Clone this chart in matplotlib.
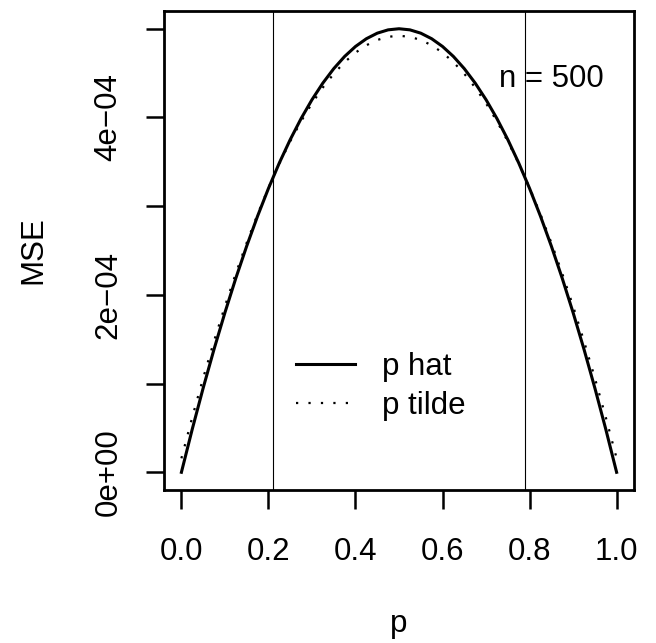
import matplotlib
matplotlib.use("Agg")
import matplotlib.pyplot as plt
from matplotlib.ticker import FixedLocator, FixedFormatter

plt.rcParams['font.family'] = ['Liberation Sans', 'DejaVu Sans']

# values, MSE in units of 1e-4
p = [0.000, 0.025, 0.050, 0.075, 0.100, 0.125, 0.150, 0.175, 0.200, 0.225,
     0.250, 0.275, 0.300, 0.325, 0.350, 0.375, 0.400, 0.425, 0.450, 0.475,
     0.500, 0.525, 0.550, 0.575, 0.600, 0.625, 0.650, 0.675, 0.700, 0.725,
     0.750, 0.775, 0.800, 0.825, 0.850, 0.875, 0.900, 0.925, 0.950, 0.975,
     1.000]
mse_hat = [0.0000, 0.4875, 0.9500, 1.3875, 1.8000, 2.1875, 2.5500, 2.8875,
           3.2000, 3.4875, 3.7500, 3.9875, 4.2000, 4.3875, 4.5500, 4.6875,
           4.8000, 4.8875, 4.9500, 4.9875, 5.0000, 4.9875, 4.9500, 4.8875,
           4.8000, 4.6875, 4.5500, 4.3875, 4.2000, 3.9875, 3.7500, 3.4875,
           3.2000, 2.8875, 2.5500, 2.1875, 1.8000, 1.3875, 0.9500, 0.4875,
           0.0000]
mse_tilde = [0.1575, 0.6219, 1.0625, 1.4793, 1.8723, 2.2415, 2.5869, 2.9084,
             3.2061, 3.4800, 3.7301, 3.9564, 4.1588, 4.3374, 4.4922, 4.6232,
             4.7304, 4.8138, 4.8733, 4.9090, 4.9210, 4.9090, 4.8733, 4.8138,
             4.7304, 4.6232, 4.4922, 4.3374, 4.1588, 3.9564, 3.7301, 3.4800,
             3.2061, 2.9084, 2.5869, 2.2415, 1.8723, 1.4793, 1.0625, 0.6219,
             0.1575]
cross = [0.2112, 0.7888]

xticks = [0.0, 0.2, 0.4, 0.6, 0.8, 1.0]
xlabels = ["0.0", "0.2", "0.4", "0.6", "0.8", "1.0"]
yticks = [0, 1e-4, 2e-4, 3e-4, 4e-4, 5e-4]
ylabels = ["0e+00", "", "2e\u221204", "", "4e\u221204", ""]

fs = 22.5

fig = plt.figure(figsize=(6.56, 6.43), dpi=100)
ax = fig.add_axes([0.25, 0.2379, 0.7165, 0.745])

ax.plot(p, [v * 1e-4 for v in mse_hat], color='black', lw=2.2, label='p hat')
ax.plot(p, [v * 1e-4 for v in mse_tilde], color='black', lw=1.6,
        linestyle=(0, (1, 4.6)), label='p tilde')
for c in cross:
    ax.axvline(c, color='black', lw=0.8)

ax.set_xlim(-0.04, 1.04)
ax.set_ylim(-2e-5, 5.2e-4)

ax.xaxis.set_major_locator(FixedLocator(xticks))
ax.xaxis.set_major_formatter(FixedFormatter(xlabels))
ax.yaxis.set_major_locator(FixedLocator(yticks))
ax.yaxis.set_major_formatter(FixedFormatter(ylabels))
ax.tick_params(axis='x', length=14, width=1.8, pad=20, labelsize=fs)
ax.tick_params(axis='y', length=13, width=1.8, pad=16, labelsize=fs)
plt.setp(ax.get_yticklabels(), rotation=90, va='center')
for s in ax.spines.values():
    s.set_linewidth(2)

ax.set_xlabel("p", fontsize=fs, labelpad=30)
ax.set_ylabel("MSE", fontsize=fs, labelpad=33)

ax.text(0.85, 4.34e-4, "n = 500", fontsize=fs, ha='center', va='baseline')

ax.legend(loc='center left', bbox_to_anchor=(0.281, 0.216), frameon=False,
          fontsize=fs, borderpad=0, borderaxespad=0, handlelength=1.9,
          handletextpad=0.85, labelspacing=0.3)

fig.savefig("out.png", dpi=100)
